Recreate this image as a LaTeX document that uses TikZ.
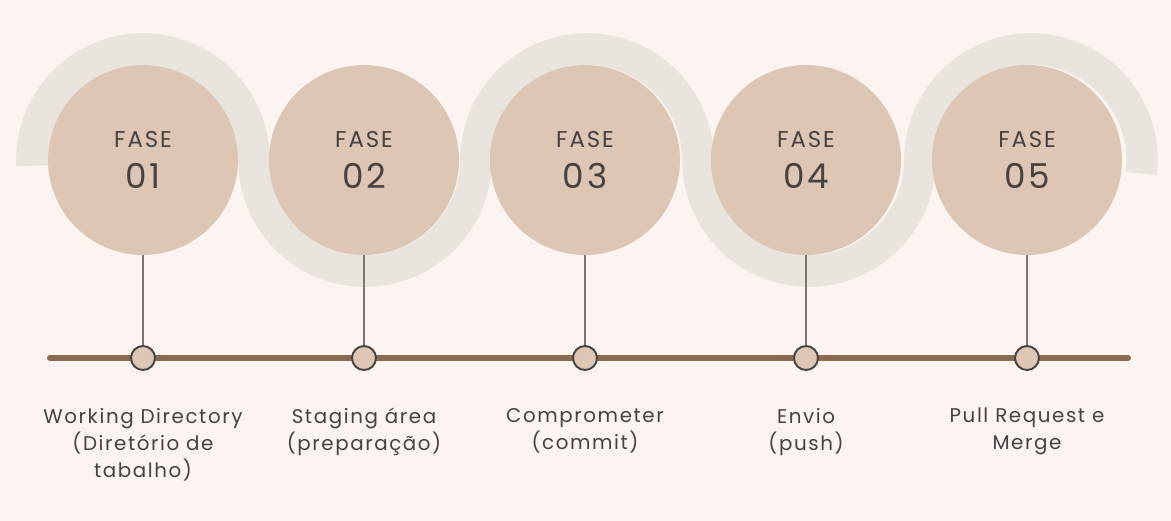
\documentclass[tikz,border=0pt]{standalone}
\usepackage{fontspec}
\setmainfont{Poppins}[LetterSpace=8]
\usepackage{xcolor}
\usetikzlibrary{positioning}

\definecolor{paper}{HTML}{FBF4F1}
\definecolor{wave}{HTML}{E9E4DD}
\definecolor{phasefill}{HTML}{DDC6B4}
\definecolor{timebrown}{HTML}{8C6A51}
\definecolor{inkgray}{HTML}{474242}
\definecolor{stemgray}{HTML}{7A7472}

\tikzset{
    phase/.style={circle, fill=phasefill, minimum size=3.8cm, inner sep=0pt,
        align=center, text=inkgray, font=\fontsize{13}{23}\selectfont},
    dot/.style={circle, draw=inkgray, fill=phasefill, line width=1.1pt,
        minimum size=0.48cm, inner sep=0pt},
    stem/.style={stemgray, line width=0.6pt},
    timeline/.style={timebrown, line width=3.4pt, line cap=round},
    band/.style={wave, line width=18pt},
    steplabel/.style={anchor=north, align=center, text=inkgray,
        font=\fontsize{11.3}{15.3}\selectfont}
}

\newcommand{\phasetext}[1]{FASE\\{\fontsize{19.5}{23}\selectfont #1}}

\begin{document}
\begin{tikzpicture}[x=0.02cm, y=0.02cm]

% Background
\fill[paper] (0,0) rectangle (1171,-521);
\useasboundingbox (0,0) rectangle (1171,-521);

% Wave band behind the phases
\draw[band] (143,-160) ++(183:111)
    arc[start angle=183, end angle=0, radius=111]
    arc[start angle=180, end angle=360, radius=111]
    arc[start angle=180, end angle=0, radius=111]
    arc[start angle=180, end angle=360, radius=111]
    arc[start angle=180, end angle=-7, radius=111];

% Phases
\node[phase] (c1) at (143,-160) {\phasetext{01}};
\node[phase] (c2) at (364,-160) {\phasetext{02}};
\node[phase] (c3) at (585,-160) {\phasetext{03}};
\node[phase] (c4) at (806,-160) {\phasetext{04}};
\node[phase] (c5) at (1027,-160) {\phasetext{05}};

% Timeline
\coordinate (tl) at (50,-358);
\coordinate (tr) at (1128,-358);
\draw[timeline] (tl) -- (tr);

% Dots on the timeline
\node[dot] (d1) at (143,-358) {};
\node[dot] (d2) at (364,-358) {};
\node[dot] (d3) at (585,-358) {};
\node[dot] (d4) at (806,-358) {};
\node[dot] (d5) at (1027,-358) {};

% Stems from phases to dots
\draw[stem] (c1.south) -- (d1.north);
\draw[stem] (c2.south) -- (d2.north);
\draw[stem] (c3.south) -- (d3.north);
\draw[stem] (c4.south) -- (d4.north);
\draw[stem] (c5.south) -- (d5.north);

% Labels under the timeline
\node[steplabel] (l1) at (143,-402) {Working Directory\\(Diretório de\\tabalho)};
\node[steplabel] (l2) at (364,-402) {Staging área\\(preparação)};
\node[steplabel] (l3) at (585,-402) {Comprometer\\(commit)};
\node[steplabel] (l4) at (806,-402) {Envio\\(push)};
\node[steplabel] (l5) at (1027,-402) {Pull Request e\\Merge};

\end{tikzpicture}
\end{document}
